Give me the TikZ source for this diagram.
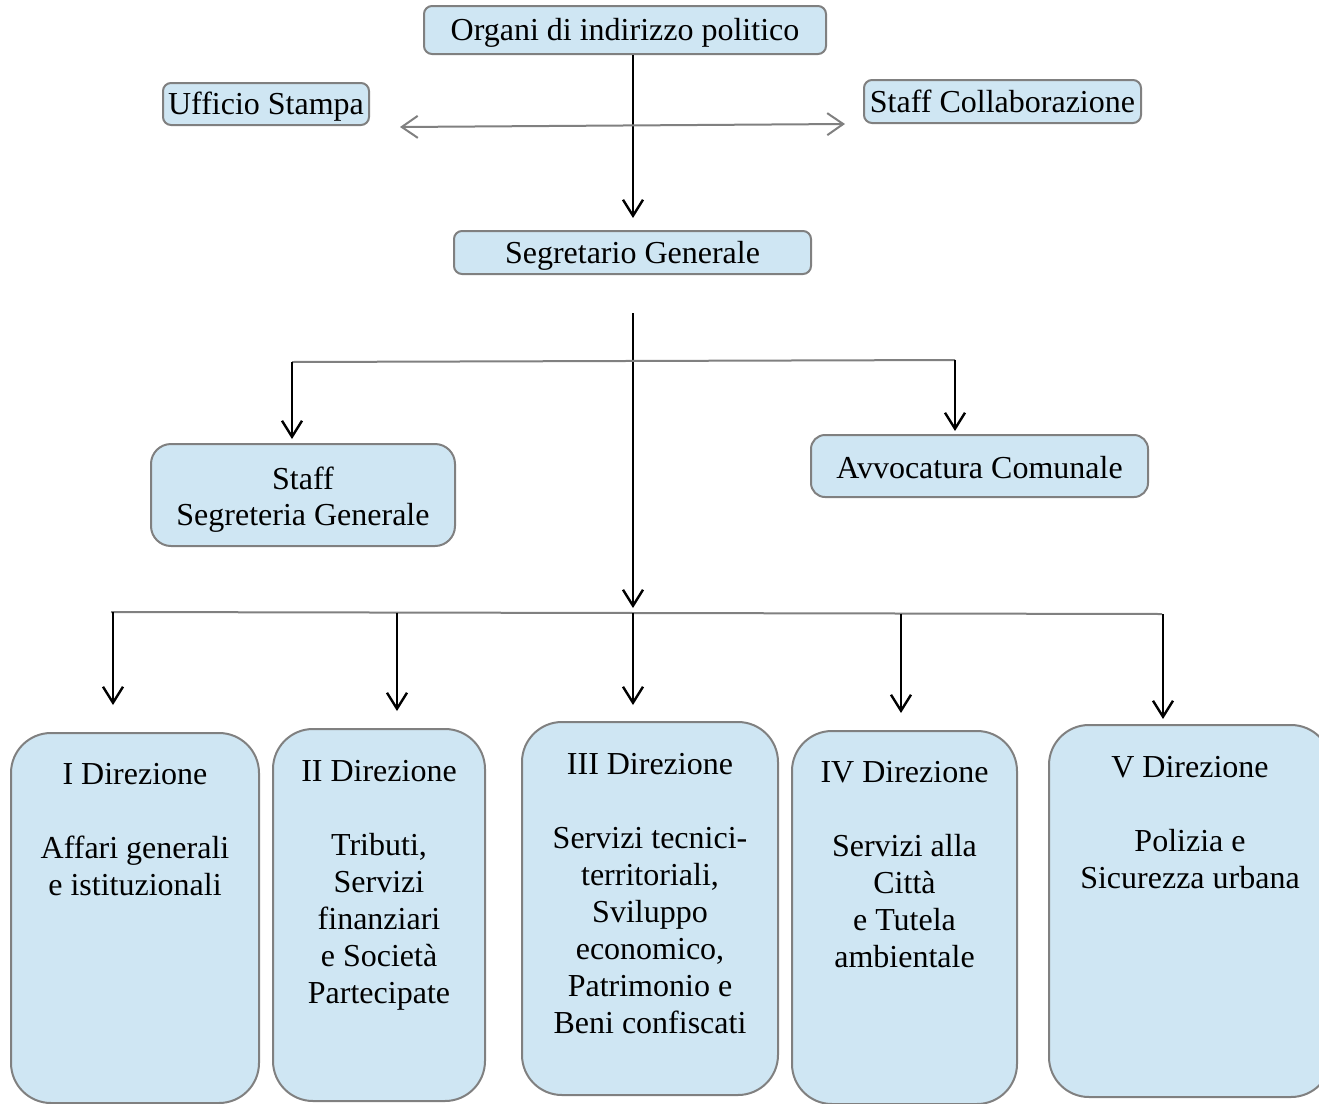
\documentclass[tikz,border=0pt]{standalone}
\usepackage{fontspec}
\setmainfont{Liberation Serif}
\usetikzlibrary{arrows.meta}
\definecolor{boxfill}{RGB}{207,230,243}
\definecolor{boxline}{RGB}{128,128,128}
\newcommand{\topbox}[4]{\begin{minipage}[c][#2][t]{#1}\centering\vspace*{#3}\strut #4\end{minipage}}
\begin{document}
\begin{tikzpicture}[x=0.5pt,y=-0.5pt,
  box/.style={draw=boxline, fill=boxfill, line width=1pt, rounded corners=4pt, inner sep=0pt,
    font=\fontsize{16}{18.5}\selectfont, align=center},
  sbox/.style={box, text height=14pt, text depth=3.5pt},
  dirst/.style={box, rounded corners=20pt},
  arr/.style={-{Straight Barb[length=8pt,width=10pt]}, line width=1.2pt, black},
  garr/.style={{Straight Barb[length=8pt,width=11pt]}-{Straight Barb[length=8pt,width=11pt]}, line width=1pt, draw=boxline},
  gline/.style={draw=boxline, line width=1pt}]
\useasboundingbox (0,0) rectangle (1319,1104);

% top level
\node[sbox, minimum width=201pt, minimum height=24pt] (org) at (625,30) {Organi di indirizzo politico};
\node[sbox, minimum width=103pt, minimum height=21pt] (uff) at (266,104) {Ufficio Stampa};
\node[sbox, minimum width=138.5pt, minimum height=21.5pt] (stc) at (1002.5,101.5) {Staff Collaborazione};
\node[sbox, minimum width=178.5pt, minimum height=21.5pt] (seg) at (632.5,252.5) {Segretario Generale};
\node[box, rounded corners=10pt] (ssg) at (303,495) {\topbox{152pt}{51pt}{10pt}{Staff\\[-0.5pt]Segreteria Generale}};
\node[box, text height=16pt, text depth=3.5pt, rounded corners=7pt, minimum width=168.5pt, minimum height=31pt] (avv) at (979.5,466) {Avvocatura Comunale};

% direzioni
\node[dirst] (d1) at (135,918) {\topbox{124pt}{185pt}{13pt}{I Direzione\\[18.5pt]Affari generali\\e istituzionali}};
\node[dirst] (d2) at (379,915) {\topbox{106pt}{186pt}{13.5pt}{II Direzione\\[18.5pt]Tributi,\\Servizi\\finanziari\\e Società\\Partecipate}};
\node[dirst] (d3) at (650,908.5) {\topbox{128pt}{186.5pt}{13.5pt}{III Direzione\\[18.5pt]Servizi tecnici-\\territoriali,\\Sviluppo\\economico,\\Patrimonio e\\Beni confiscati}};
\node[dirst] (d4) at (904.5,917.5) {\topbox{112.5pt}{186.5pt}{13pt}{IV Direzione\\[18.5pt]Servizi alla\\Città\\e Tutela\\ambientale}};
\node[dirst] (d5) at (1190,911) {\topbox{141pt}{186pt}{13.5pt}{V Direzione\\[18.5pt]Polizia e\\Sicurezza urbana}};

% connectors
\coordinate (j1) at (633,218);
\draw[arr] (org.south -| j1) -- (j1);
\coordinate (hl) at (400,127);
\coordinate (hr) at (845,124);
\draw[garr] (hl) -- (hr);

\coordinate (s0) at (633,313);
\coordinate (s1) at (633,608);
\draw[arr] (s0) -- (s1);

\coordinate (b1) at (292,362);
\coordinate (b2) at (955,360);
\draw[gline] (b1) -- (b2);
\draw[arr, shorten >=2pt] (b1) -- (b1 |- ssg.north);
\draw[arr, shorten >=1.5pt] (b2) -- (b2 |- avv.north);

\coordinate (c1) at (111,612);
\coordinate (c2) at (1162,614);
\draw[gline] (c1) -- (c2);
\coordinate (e1) at (113,612);
\coordinate (e2) at (397,612.5);
\coordinate (e3) at (633,613);
\coordinate (e4) at (901,613.5);
\coordinate (e5) at (1163,614);
\draw[arr, shorten >=13.5pt] (e1) -- (e1 |- d1.north);
\draw[arr, shorten >=8.5pt] (e2) -- (e2 |- d2.north);
\draw[arr, shorten >=8pt] (e3) -- (e3 |- d3.north);
\draw[arr, shorten >=8.5pt] (e4) -- (e4 |- d4.north);
\draw[arr, shorten >=2.5pt] (e5) -- (e5 |- d5.north);
\end{tikzpicture}
\end{document}
